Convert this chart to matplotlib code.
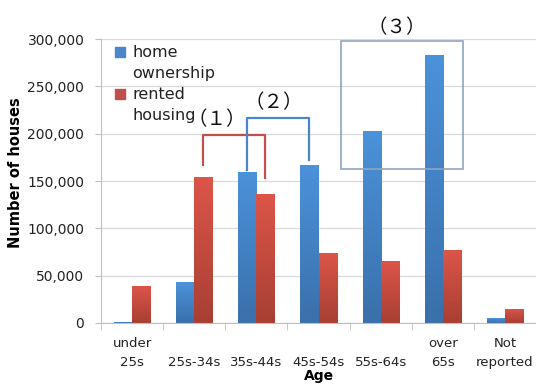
import numpy as np
import matplotlib.pyplot as plt
from matplotlib.colors import LinearSegmentedColormap
from matplotlib.patches import Rectangle

plt.rcParams['font.family'] = ['DejaVu Sans']

ages = ["under\n25s", "\n25s-34s", "\n35s-44s", "\n45s-54s", "\n55s-64s", "over\n65s", "Not\nreported"]
owned = [1000, 43000, 159000, 167000, 203000, 283000, 5000]
rented = [39000, 154000, 136000, 74000, 65000, 77000, 15000]
series = ["home\nownership", "rented\nhousing"]

blue_top, blue_bot = "#4b92da", "#3a70ab"
red_top, red_bot = "#dc5549", "#a83f33"

fig = plt.figure(figsize=(5.36, 3.88), dpi=100)
ax = fig.add_axes([101/536, 1 - 323/388, 435/536, 284/388])

x = np.arange(len(ages))
w = 0.29
ax.set_xlim(-0.5, len(ages) - 0.5)
ax.set_ylim(0, 300000)


def grad_bar(xc, h, c_top, c_bot):
    # gradient fill clipped to the bar rectangle
    cmap = LinearSegmentedColormap.from_list("g", [c_bot, c_top])
    rect = Rectangle((xc - w/2, 0), w, h, facecolor="none", edgecolor="none")
    ax.add_patch(rect)
    img = ax.imshow(np.linspace(0, 1, 100).reshape(-1, 1), cmap=cmap, origin="lower",
                    extent=[xc - w/2, xc + w/2, 0, h], aspect="auto", zorder=2)
    img.set_clip_path(rect)


for i in range(len(ages)):
    grad_bar(x[i] - w/2, owned[i], blue_top, blue_bot)
    grad_bar(x[i] + w/2, rented[i], red_top, red_bot)
ax.set_aspect("auto")

ax.set_yticks(np.arange(0, 300001, 50000))
ax.set_yticklabels([f"{v:,}" for v in range(0, 300001, 50000)], fontsize=10, color="#222222")
ax.yaxis.grid(True, color="#d9d9d9", lw=0.9)
ax.set_axisbelow(True)

ax.set_xticks(x)
ax.set_xticklabels(ages, fontsize=9.5, color="#222222", linespacing=1.6)
ax.set_xticks(np.arange(-0.5, len(ages)), minor=True)
ax.tick_params(axis="x", which="major", length=0, pad=10)
ax.tick_params(axis="x", which="minor", length=5, color="#bfbfbf")
ax.tick_params(axis="y", length=4, color="#bfbfbf", pad=8)

for s in ["top", "right"]:
    ax.spines[s].set_visible(False)
ax.spines["left"].set_color("#bfbfbf")
ax.spines["bottom"].set_color("#bfbfbf")

ax.set_ylabel("Number of houses", fontsize=10.5, fontweight="bold")
ax.yaxis.set_label_coords(-0.179, 0.53)
ax.set_xlabel("Age", fontsize=10, fontweight="bold", labelpad=0)

# brackets and box
c1 = "#c0504d"
ax.plot([1 + w/2, 1 + w/2, 2 + w/2, 2 + w/2], [167000, 199000, 199000, 153000], color=c1, lw=1.6, zorder=3)
c2 = "#4a86c8"
ax.plot([2 - w/2, 2 - w/2, 3 - w/2, 3 - w/2], [162000, 217000, 217000, 172000], color=c2, lw=1.6, zorder=3)
ax.add_patch(Rectangle((3.37, 163000), 1.95, 135000, facecolor="none", edgecolor="#8fa5c0", lw=1.2, zorder=3, clip_on=False))

cjk = 'Noto Sans CJK JP'
ax.text(1.37, 215000, "（１）", family=cjk, fontsize=14, ha="center", va="center", color="#111111")
ax.text(2.28, 233000, "（２）", family=cjk, fontsize=14, ha="center", va="center", color="#111111")
ax.text(4.26, 312000, "（３）", family=cjk, fontsize=14, ha="center", va="center", color="#111111", clip_on=False)

# legend: square marker next to the first line of each label
leg_colors = ["#4a86c8", "#c0504d"]
leg_y = [0.955, 0.805]
for lab, col, ly in zip(series, leg_colors, leg_y):
    ax.plot([0.044], [ly], marker="s", ms=7.5, color=col, transform=ax.transAxes, clip_on=False)
    ax.text(0.072, ly + 0.025, lab, transform=ax.transAxes, fontsize=11.5, color="#222222",
            va="top", ha="left", linespacing=1.5)

fig.savefig("out.png", dpi=100)
